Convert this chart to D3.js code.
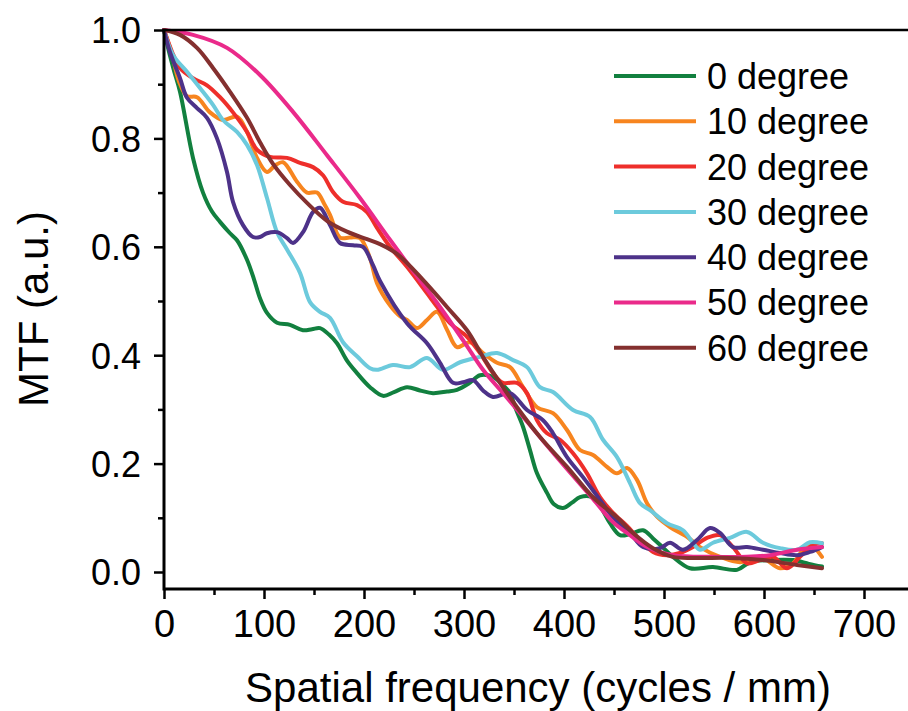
<!DOCTYPE html>
<html>
<head>
<meta charset="utf-8">
<script src="https://cdn.jsdelivr.net/npm/d3@7"></script>
<style>
  html, body { margin: 0; padding: 0; background: #fff; }
  svg { display: block; font-family: "Liberation Sans", Arial, sans-serif; }
</style>
</head>
<body>
<svg id="chart" width="908" height="711"></svg>
<script>
// ---- Data ----
const seriesNames = ["0 degree", "10 degree", "20 degree", "30 degree", "40 degree", "50 degree", "60 degree"];
const seriesColors = ["#12803f", "#f7851f", "#ee2f2b", "#6ccadc", "#4d3289", "#ea2a8a", "#84302f"];

const xTicks = [0, 100, 200, 300, 400, 500, 600, 700];
const yTicks = [0.0, 0.2, 0.4, 0.6, 0.8, 1.0];

const deg0 = [[0,1.0],[5,0.96],[10,0.925],[16,0.886],[29,0.764],[39,0.70],[48,0.665],[56,0.646],[66,0.625],[73,0.612],[83,0.576],[90,0.54],[96,0.505],[103,0.478],[113,0.46],[126,0.456],[139,0.446],[148,0.448],[156,0.45],[165,0.438],[173,0.422],[183,0.39],[193,0.367],[206,0.341],[219,0.325],[230,0.332],[243,0.341],[256,0.335],[269,0.33],[283,0.333],[293,0.336],[305,0.348],[316,0.363],[329,0.36],[340,0.343],[346,0.33],[352,0.30],[359,0.268],[366,0.225],[373,0.182],[383,0.146],[390,0.125],[399,0.118],[408,0.128],[416,0.138],[428,0.138],[436,0.122],[446,0.09],[456,0.068],[466,0.07],[479,0.077],[489,0.062],[499,0.045],[509,0.028],[526,0.007],[549,0.009],[573,0.004],[586,0.018],[606,0.022],[629,0.022],[645,0.015],[658,0.01]];

const deg10 = [[0,1.0],[8,0.955],[15,0.905],[23,0.878],[33,0.876],[46,0.848],[59,0.834],[73,0.84],[83,0.812],[93,0.764],[103,0.738],[111,0.75],[119,0.756],[133,0.72],[143,0.70],[153,0.70],[160,0.68],[166,0.659],[176,0.617],[186,0.617],[196,0.616],[206,0.579],[213,0.533],[226,0.492],[236,0.472],[243,0.465],[253,0.45],[263,0.465],[273,0.48],[283,0.447],[293,0.415],[306,0.424],[319,0.404],[333,0.386],[346,0.378],[359,0.341],[373,0.304],[389,0.293],[403,0.262],[416,0.225],[429,0.216],[443,0.194],[453,0.182],[463,0.192],[473,0.17],[483,0.127],[493,0.102],[506,0.083],[523,0.065],[536,0.046],[556,0.028],[576,0.018],[596,0.028],[616,0.007],[629,0.016],[643,0.05],[650,0.045],[658,0.028]];

const deg20 = [[0,1.0],[8,0.96],[16,0.93],[29,0.911],[43,0.898],[56,0.876],[69,0.848],[83,0.812],[93,0.779],[106,0.766],[123,0.764],[136,0.755],[149,0.747],[159,0.732],[169,0.701],[179,0.683],[193,0.677],[203,0.664],[213,0.635],[226,0.60],[243,0.563],[266,0.507],[286,0.459],[303,0.434],[316,0.404],[329,0.367],[339,0.349],[353,0.349],[363,0.33],[373,0.28],[383,0.256],[396,0.244],[409,0.219],[423,0.182],[436,0.138],[449,0.109],[463,0.085],[476,0.059],[489,0.037],[503,0.031],[516,0.035],[529,0.046],[543,0.063],[556,0.068],[569,0.046],[583,0.016],[596,0.022],[609,0.028],[623,0.007],[636,0.028],[649,0.05],[658,0.053]];

const deg30 = [[0,1.0],[9,0.954],[23,0.923],[36,0.893],[49,0.862],[59,0.834],[73,0.812],[83,0.788],[93,0.751],[103,0.69],[113,0.627],[123,0.595],[136,0.552],[146,0.498],[156,0.48],[166,0.469],[179,0.424],[193,0.398],[206,0.376],[213,0.373],[229,0.382],[246,0.378],[263,0.395],[279,0.373],[296,0.387],[316,0.397],[333,0.404],[349,0.391],[363,0.378],[376,0.341],[389,0.332],[409,0.299],[426,0.286],[439,0.244],[453,0.212],[466,0.164],[476,0.127],[486,0.114],[503,0.09],[519,0.077],[529,0.054],[536,0.041],[549,0.054],[566,0.063],[583,0.074],[599,0.054],[616,0.044],[633,0.041],[646,0.055],[658,0.053]];

const deg40 = [[0,1.0],[6,0.959],[16,0.911],[23,0.875],[33,0.856],[43,0.838],[53,0.8],[63,0.738],[69,0.683],[79,0.64],[89,0.618],[96,0.618],[103,0.625],[113,0.627],[123,0.616],[129,0.607],[139,0.627],[149,0.664],[156,0.672],[166,0.64],[176,0.607],[189,0.603],[199,0.6],[209,0.566],[216,0.537],[243,0.459],[263,0.422],[276,0.386],[289,0.349],[299,0.35],[309,0.354],[319,0.335],[329,0.323],[346,0.33],[363,0.299],[379,0.28],[389,0.256],[403,0.212],[419,0.175],[436,0.133],[449,0.101],[466,0.072],[479,0.046],[496,0.044],[506,0.054],[519,0.041],[533,0.059],[546,0.081],[556,0.072],[569,0.046],[583,0.046],[599,0.041],[616,0.035],[633,0.031],[646,0.037],[658,0.046]];

const deg50 = [[0,1.0],[29,0.991],[63,0.967],[96,0.917],[129,0.849],[163,0.769],[196,0.69],[226,0.613],[250,0.553],[276,0.489],[300,0.425],[319,0.373],[340,0.328],[356,0.293],[380,0.24],[403,0.19],[429,0.135],[449,0.092],[466,0.068],[483,0.046],[509,0.031],[549,0.028],[583,0.028],[606,0.031],[633,0.041],[658,0.046]];

const deg60 = [[0,1.0],[16,0.991],[33,0.967],[49,0.93],[66,0.886],[83,0.838],[96,0.793],[109,0.753],[126,0.714],[143,0.681],[163,0.648],[183,0.628],[203,0.614],[216,0.605],[233,0.587],[259,0.539],[283,0.489],[303,0.446],[319,0.397],[336,0.349],[353,0.304],[376,0.249],[403,0.194],[429,0.138],[453,0.101],[469,0.072],[489,0.044],[509,0.028],[533,0.026],[566,0.026],[599,0.022],[633,0.013],[658,0.007]];

const seriesData = [deg0, deg10, deg20, deg30, deg40, deg50, deg60];

// ---- Layout ----
const svg = d3.select("#chart");
const x = d3.scaleLinear().domain([0, 744]).range([164, 908]);
const y = d3.scaleLinear().domain([0, 1]).range([572, 30]);
const yBottom = 589;

// Lines
const line = d3.line()
  .x(d => x(d[0]))
  .y(d => y(d[1]))
  .curve(d3.curveCatmullRom.alpha(0.5));

const plot = svg.append("g");
seriesData.forEach((s, i) => {
  plot.append("path")
    .datum(s)
    .attr("fill", "none")
    .attr("stroke", seriesColors[i])
    .attr("stroke-width", 4)
    .attr("stroke-linejoin", "round")
    .attr("stroke-linecap", "round")
    .attr("d", line);
});

// Axes
const xAxis = d3.axisBottom(x).tickValues(xTicks).tickSize(10).tickFormat(d3.format("d"));
const xMinor = d3.axisBottom(x).tickValues(d3.range(50, 744, 100)).tickSize(6).tickFormat("");
const yAxis = d3.axisLeft(y).tickValues(yTicks).tickSize(10).tickFormat(d3.format(".1f"));
const yMinor = d3.axisLeft(y).tickValues([0.1, 0.3, 0.5, 0.7, 0.9]).tickSize(6).tickFormat("");

function styleAxis(g) {
  g.attr("font-family", null).attr("font-size", null);
  g.select(".domain").remove();
  g.selectAll(".tick line").attr("stroke", "#000").attr("stroke-width", 2.5);
  g.selectAll(".tick text").attr("fill", "#000");
}

const gx = svg.append("g").attr("transform", `translate(0,${yBottom})`).call(xAxis).call(styleAxis);
gx.selectAll(".tick text").attr("font-size", 38).attr("y", 21).attr("dy", "0.71em");
svg.append("g").attr("transform", `translate(0,${yBottom})`).call(xMinor).call(styleAxis);

const gy = svg.append("g").attr("transform", `translate(164,0)`).call(yAxis).call(styleAxis);
gy.selectAll(".tick text").attr("font-size", 36).attr("x", -23).attr("dy", "0.36em");
svg.append("g").attr("transform", `translate(164,0)`).call(yMinor).call(styleAxis);

// Frame lines
svg.append("line").attr("x1", 164).attr("x2", 908).attr("y1", yBottom).attr("y2", yBottom)
  .attr("stroke", "#000").attr("stroke-width", 3);
svg.append("line").attr("x1", 164).attr("x2", 164).attr("y1", 30).attr("y2", yBottom + 1.5)
  .attr("stroke", "#000").attr("stroke-width", 3);
svg.append("line").attr("x1", 162.5).attr("x2", 908).attr("y1", 30).attr("y2", 30)
  .attr("stroke", "#000").attr("stroke-width", 2.5);

// Axis titles
svg.append("text")
  .attr("x", 538).attr("y", 702)
  .attr("text-anchor", "middle")
  .attr("font-size", 42)
  .attr("fill", "#000")
  .text("Spatial frequency (cycles / mm)");

svg.append("text")
  .attr("transform", "translate(48,309) rotate(-90)")
  .attr("text-anchor", "middle")
  .attr("font-size", 42)
  .attr("fill", "#000")
  .text("MTF (a.u.)");

// Legend
const legend = svg.append("g");
seriesNames.forEach((name, i) => {
  const ly = 76 + i * 45.3;
  legend.append("line")
    .attr("x1", 614).attr("x2", 696).attr("y1", ly).attr("y2", ly)
    .attr("stroke", seriesColors[i]).attr("stroke-width", 4);
  legend.append("text")
    .attr("x", 707).attr("y", ly).attr("dy", "0.36em")
    .attr("font-size", 36).attr("fill", "#000")
    .text(name);
});
</script>
</body>
</html>
